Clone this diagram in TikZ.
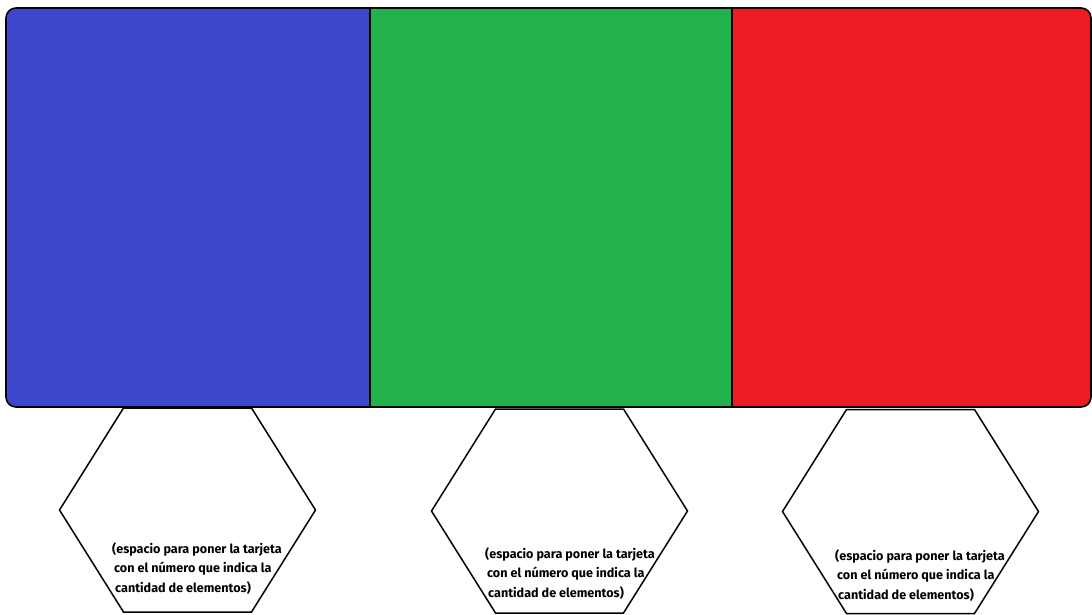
\documentclass[tikz,border=0pt]{standalone}
\usepackage{fontspec}
\setmainfont{Fira Sans}
\definecolor{paintblue}{RGB}{63,72,204}
\definecolor{paintgreen}{RGB}{34,177,76}
\definecolor{paintred}{RGB}{237,28,36}
\tikzset{
  frameline/.style={draw=black, line width=1.6pt},
  hexa/.style={draw=black, line width=1.5pt, line join=miter, fill=white},
  cardnote/.style={anchor=base west, align=left, inner sep=0pt,
    font=\fontsize{12.6}{19.5}\selectfont\bfseries},
}
\newcommand{\notetext}{(espacio para poner la tarjeta\\
  \hspace*{2pt}con el número que indica la\\
  \hspace*{3pt}cantidad de elementos)}
\begin{document}
\begin{tikzpicture}[x=1pt, y=-1pt, line join=round, line cap=round]
\useasboundingbox (0,0) rectangle (1092,615);
\coordinate (NW) at (6,8);
\coordinate (SE) at (1091,407);
\coordinate (T1) at (370,8);
\coordinate (B1) at (370,407);
\coordinate (T2) at (732,8);
\coordinate (B2) at (732,407);

\begin{scope}
  \clip[rounded corners=10pt] (NW) rectangle (SE);
  \fill[paintblue] (NW) rectangle (B1);
  \fill[paintgreen] (T1) rectangle (B2);
  \fill[paintred] (T2) rectangle (SE);
\end{scope}
\draw[frameline, rounded corners=10pt] (NW) rectangle (SE);
\draw[frameline] (T1) -- (B1);
\draw[frameline] (T2) -- (B2);

\foreach \cx/\cy in {187.5/510, 559.5/511, 910.5/511.5}
  \draw[hexa] (\cx-128,\cy) -- (\cx-64,\cy-102) -- (\cx+64,\cy-102)
    -- (\cx+128,\cy) -- (\cx+64,\cy+102) -- (\cx-64,\cy+102) -- cycle;

\node[cardnote] (noteA) at (112,592) {\notetext};
\node[cardnote] (noteB) at (485,597) {\notetext};
\node[cardnote] (noteC) at (835,599) {\notetext};
\end{tikzpicture}
\end{document}
